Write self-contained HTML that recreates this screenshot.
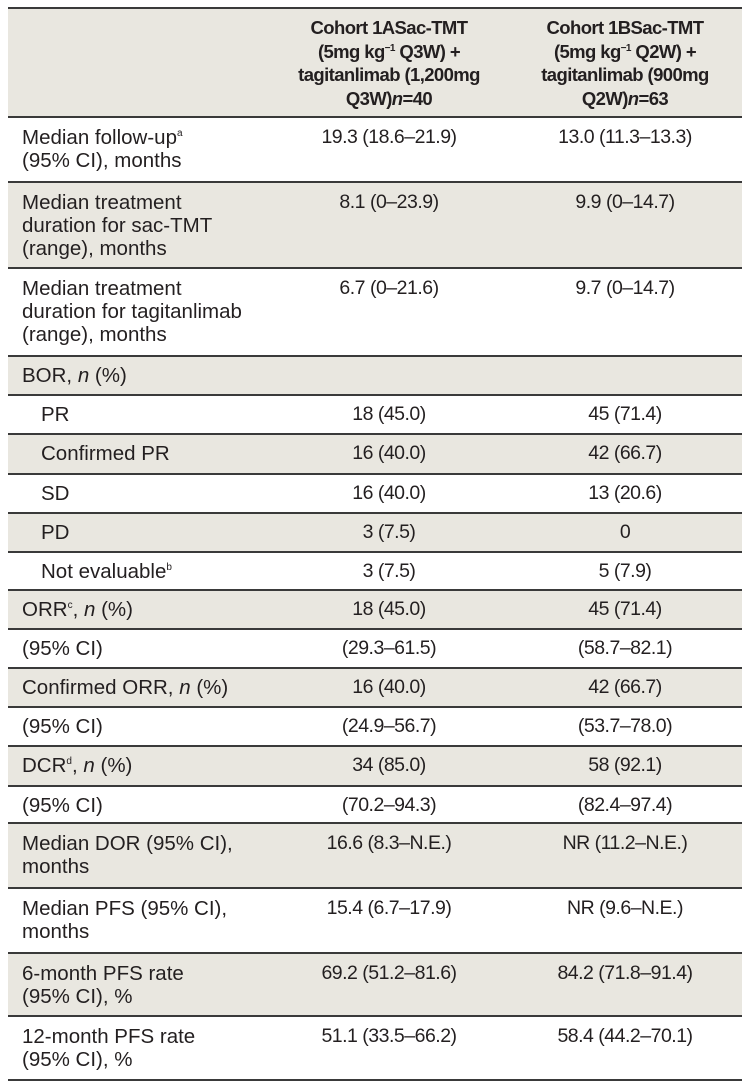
<!DOCTYPE html>
<html><head><meta charset="utf-8"><style>
body{margin:0;background:#fff;width:751px;height:1085px;position:relative;overflow:hidden;font-family:"Liberation Sans",Arial,sans-serif;color:#231f20;}
.r{position:absolute;left:8px;width:734px;border-top:2px solid #3a3a3a;box-sizing:border-box;}
.b{background:#e9e7e0;}
.c1,.c2,.c3{position:absolute;top:8px;font-size:19.5px;line-height:23px;letter-spacing:-0.5px;white-space:nowrap;}
.c1{left:14px;width:250px;font-size:20.5px;letter-spacing:0px;}
.in{left:33px;}
.c2{left:262px;width:238px;text-align:center;}
.c3{left:500px;width:234px;text-align:center;}
.h{font-weight:bold;line-height:23.5px;top:7px;font-size:18.5px;letter-spacing:-0.6px;}
sup{font-size:10px;line-height:0;}
</style></head><body>
<div class="r b" style="top:7px;height:110px"><div class="c2 h">Cohort 1ASac-TMT<br>(5mg kg<sup>−1</sup> Q3W) +<br>tagitanlimab (1,200mg<br>Q3W)<i>n</i>=40</div><div class="c3 h">Cohort 1BSac-TMT<br>(5mg kg<sup>−1</sup> Q2W) +<br>tagitanlimab (900mg<br>Q2W)<i>n</i>=63</div></div>
<div class="r" style="top:116px;height:66px"><div class="c1">Median follow-up<sup>a</sup><br>(95% CI), months</div><div class="c2">19.3 (18.6–21.9)</div><div class="c3">13.0 (11.3–13.3)</div></div>
<div class="r b" style="top:181px;height:87px"><div class="c1">Median treatment<br>duration for sac-TMT<br>(range), months</div><div class="c2">8.1 (0–23.9)</div><div class="c3">9.9 (0–14.7)</div></div>
<div class="r" style="top:267px;height:89px"><div class="c1">Median treatment<br>duration for tagitanlimab<br>(range), months</div><div class="c2">6.7 (0–21.6)</div><div class="c3">9.7 (0–14.7)</div></div>
<div class="r b" style="top:355px;height:40px"><div class="c1" style="top:7px">BOR, <i>n</i> (%)</div></div>
<div class="r" style="top:394px;height:40px"><div class="c1 in" style="top:7px">PR</div><div class="c2" style="top:7px">18 (45.0)</div><div class="c3" style="top:7px">45 (71.4)</div></div>
<div class="r b" style="top:433px;height:41px"><div class="c1 in" style="top:7px">Confirmed PR</div><div class="c2" style="top:7px">16 (40.0)</div><div class="c3" style="top:7px">42 (66.7)</div></div>
<div class="r" style="top:473px;height:40px"><div class="c1 in" style="top:7px">SD</div><div class="c2" style="top:7px">16 (40.0)</div><div class="c3" style="top:7px">13 (20.6)</div></div>
<div class="r b" style="top:512px;height:40px"><div class="c1 in" style="top:7px">PD</div><div class="c2" style="top:7px">3 (7.5)</div><div class="c3" style="top:7px">0</div></div>
<div class="r" style="top:551px;height:39px"><div class="c1 in" style="top:7px">Not evaluable<sup>b</sup></div><div class="c2" style="top:7px">3 (7.5)</div><div class="c3" style="top:7px">5 (7.9)</div></div>
<div class="r b" style="top:589px;height:40px"><div class="c1" style="top:7px">ORR<sup>c</sup>, <i>n</i> (%)</div><div class="c2" style="top:7px">18 (45.0)</div><div class="c3" style="top:7px">45 (71.4)</div></div>
<div class="r" style="top:628px;height:40px"><div class="c1" style="top:7px">(95% CI)</div><div class="c2" style="top:7px">(29.3–61.5)</div><div class="c3" style="top:7px">(58.7–82.1)</div></div>
<div class="r b" style="top:667px;height:40px"><div class="c1" style="top:7px">Confirmed ORR, <i>n</i> (%)</div><div class="c2" style="top:7px">16 (40.0)</div><div class="c3" style="top:7px">42 (66.7)</div></div>
<div class="r" style="top:706px;height:40px"><div class="c1" style="top:7px">(95% CI)</div><div class="c2" style="top:7px">(24.9–56.7)</div><div class="c3" style="top:7px">(53.7–78.0)</div></div>
<div class="r b" style="top:745px;height:41px"><div class="c1" style="top:7px">DCR<sup>d</sup>, <i>n</i> (%)</div><div class="c2" style="top:7px">34 (85.0)</div><div class="c3" style="top:7px">58 (92.1)</div></div>
<div class="r" style="top:785px;height:38px"><div class="c1" style="top:7px">(95% CI)</div><div class="c2" style="top:7px">(70.2–94.3)</div><div class="c3" style="top:7px">(82.4–97.4)</div></div>
<div class="r b" style="top:822px;height:66px"><div class="c1">Median DOR (95% CI),<br>months</div><div class="c2">16.6 (8.3–N.E.)</div><div class="c3">NR (11.2–N.E.)</div></div>
<div class="r" style="top:887px;height:66px"><div class="c1">Median PFS (95% CI),<br>months</div><div class="c2">15.4 (6.7–17.9)</div><div class="c3">NR (9.6–N.E.)</div></div>
<div class="r b" style="top:952px;height:64px"><div class="c1">6-month PFS rate<br>(95% CI), %</div><div class="c2">69.2 (51.2–81.6)</div><div class="c3">84.2 (71.8–91.4)</div></div>
<div class="r" style="top:1015px;height:66px;border-bottom:2px solid #3a3a3a"><div class="c1">12-month PFS rate<br>(95% CI), %</div><div class="c2">51.1 (33.5–66.2)</div><div class="c3">58.4 (44.2–70.1)</div></div>
</body></html>
